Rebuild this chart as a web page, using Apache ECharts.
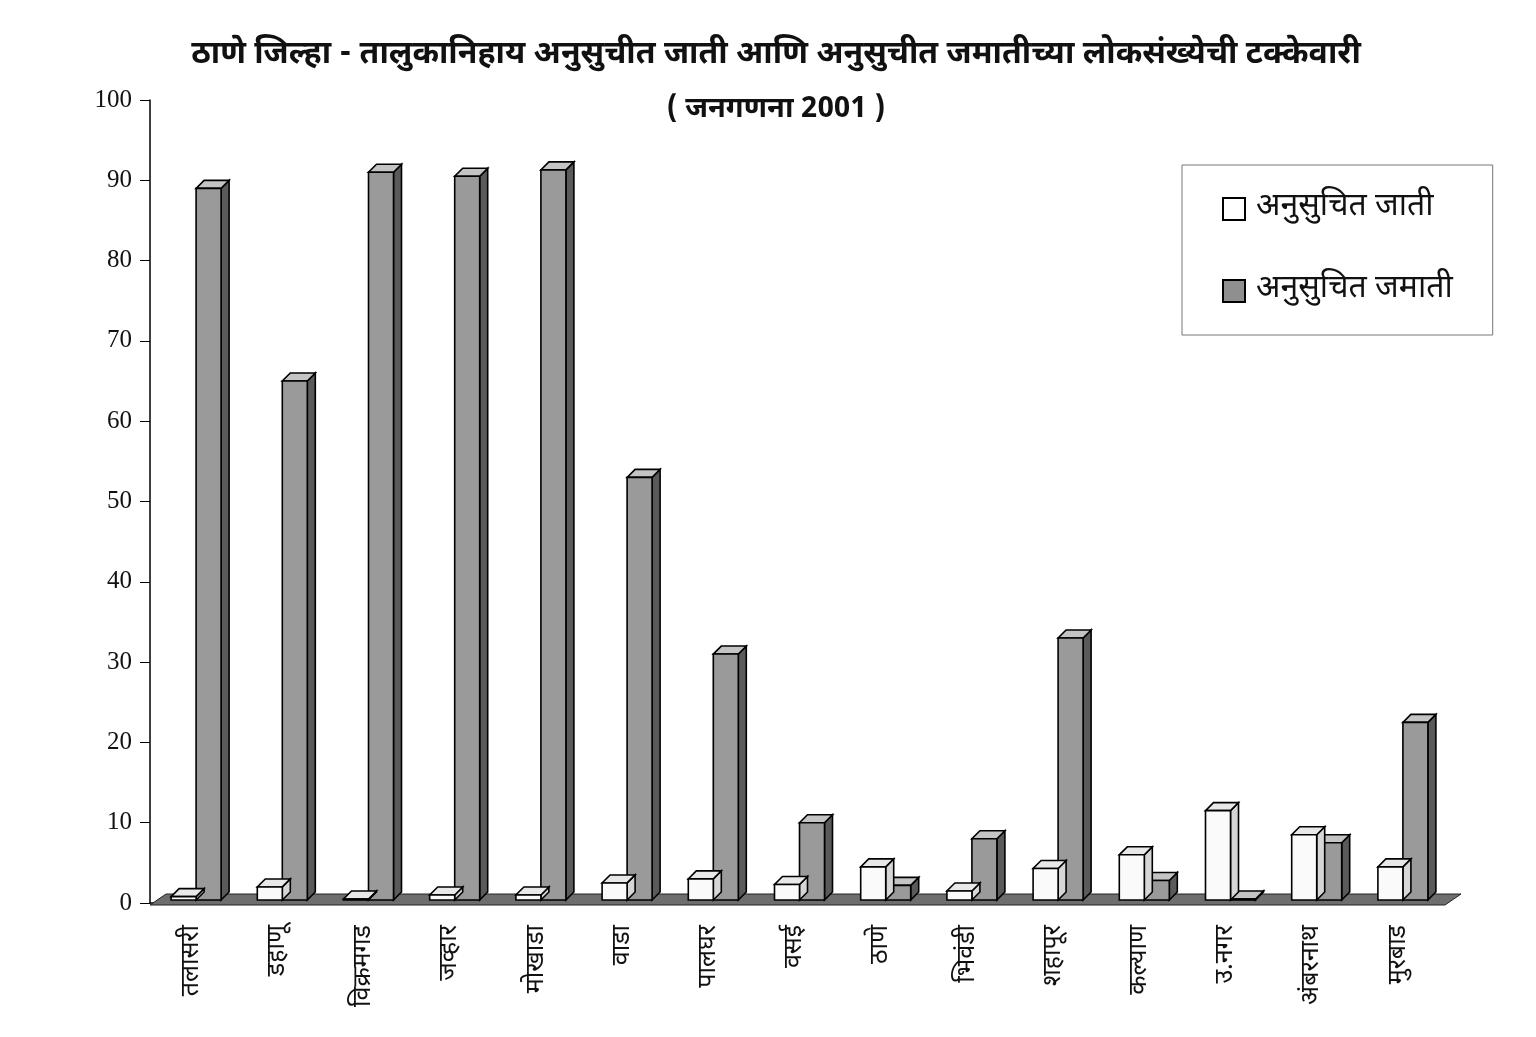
<!DOCTYPE html>
<html>
<head>
<meta charset="utf-8">
<script src="https://cdn.jsdelivr.net/npm/echarts@6/dist/echarts.min.js"></script>
<style>
  html, body { margin: 0; padding: 0; background: #fff; }
  #chart { width: 1536px; height: 1037px; }
</style>
</head>
<body>
<div id="chart"></div>
<script>
// तालुके
const talukas = ['तलासरी', 'डहाणू', 'विक्रमगड', 'जव्हार', 'मोखाडा', 'वाडा', 'पालघर', 'वसई',
  'ठाणे', 'भिवंडी', 'शहापूर', 'कल्याण', 'उ.नगर', 'अंबरनाथ', 'मुरबाड'];
// अनुसुचित जाती (%)
const scValues = [0.8, 2, 0.5, 1, 1, 2.5, 3, 2.3, 4.5, 1.5, 4.3, 6, 11.5, 8.5, 4.5];
// अनुसुचित जमाती (%)
const stValues = [89, 65, 91, 90.5, 91.3, 53, 31, 10, 2.2, 8, 33, 2.8, 0.5, 7.5, 22.5];
const yTicks = { min: 0, max: 100, interval: 10 };

const devFont = "'Noto Sans Devanagari', 'Lohit Devanagari', 'Mangal', sans-serif";
const DEPTH = 8;

function bar3d(side, faces) {
  return function (params, api) {
    const i = api.value(0);
    const v = api.value(1);
    const base = api.coord([i, 0]);
    const top = api.coord([i, v]);
    const band = api.size([1, 0])[0];
    const w = band * 0.29;
    const x0 = side === 0 ? base[0] - w + 3 : base[0] + 3;
    const x1 = x0 + w;
    const yb = base[1] - 3;
    const yt = Math.min(top[1], yb - 1);
    const stroke = { stroke: '#000', lineWidth: 1.6 };
    return {
      type: 'group',
      children: [
        { type: 'polygon', shape: { points: [[x1, yb], [x1 + DEPTH, yb - DEPTH], [x1 + DEPTH, yt - DEPTH], [x1, yt]] },
          style: Object.assign({ fill: faces.side }, stroke) },
        { type: 'polygon', shape: { points: [[x0, yt], [x1, yt], [x1 + DEPTH, yt - DEPTH], [x0 + DEPTH, yt - DEPTH]] },
          style: Object.assign({ fill: faces.top }, stroke) },
        { type: 'rect', shape: { x: x0, y: yt, width: w, height: yb - yt },
          style: Object.assign({ fill: faces.front }, stroke) }
      ]
    };
  };
}

const chart = echarts.init(document.getElementById('chart'));
chart.setOption({
  backgroundColor: '#fff',
  animation: false,
  title: {
    text: 'ठाणे जिल्हा - तालुकानिहाय अनुसुचीत जाती आणि अनुसुचीत जमातीच्या लोकसंख्येची टक्केवारी',
    subtext: '( जनगणना 2001 )',
    left: 771,
    textAlign: 'center',
    top: 36,
    itemGap: 24,
    textStyle: { fontFamily: devFont, fontSize: 32, fontWeight: 'bold', color: '#111' },
    subtextStyle: { fontFamily: devFont, fontSize: 29, fontWeight: 'bold', color: '#111' }
  },
  legend: {
    orient: 'vertical',
    left: 1182,
    top: 165,
    padding: [28, 40, 28, 40],
    itemGap: 50,
    itemWidth: 22,
    itemHeight: 22,
    borderColor: '#777',
    borderWidth: 1,
    icon: 'rect',
    textStyle: { fontFamily: devFont, fontSize: 32, color: '#111', padding: [0, 0, 0, 6] },
    data: ['अनुसुचित जाती', 'अनुसुचित जमाती']
  },
  grid: { left: 150, right: 93, top: 100, bottom: 134 },
  xAxis: {
    type: 'category',
    data: talukas,
    axisLine: { lineStyle: { color: '#000', width: 1.5 } },
    axisTick: { length: 16, interval: 0, lineStyle: { color: '#000' } },
    axisLabel: { rotate: 90, interval: 0, margin: 22, fontFamily: devFont, fontSize: 25, color: '#111' }
  },
  yAxis: {
    type: 'value',
    min: yTicks.min,
    max: yTicks.max,
    interval: yTicks.interval,
    splitLine: { show: false },
    axisLine: { show: true, lineStyle: { color: '#000', width: 1.5 } },
    axisTick: { show: true, length: 10, lineStyle: { color: '#000' } },
    axisLabel: { fontFamily: "'Liberation Serif', 'DejaVu Serif', serif", fontSize: 25, color: '#111', margin: 18 }
  },
  series: [
    {
      // floor
      type: 'custom',
      silent: true,
      z: 1,
      data: [[0]],
      renderItem: function (params) {
        const c = params.coordSys;
        const yf = c.y + c.height + 2;
        return {
          type: 'polygon',
          shape: { points: [[c.x, yf], [c.x + c.width + 2, yf], [c.x + c.width + 18, yf - 11], [c.x + 16, yf - 11]] },
          style: { fill: '#6e6e6e', stroke: '#222', lineWidth: 1 }
        };
      }
    },
    {
      name: 'अनुसुचित जाती',
      type: 'custom',
      z: 3,
      itemStyle: { color: '#fff', borderColor: '#000', borderWidth: 1.5 },
      data: scValues.map((v, i) => [i, v]),
      renderItem: bar3d(0, { front: '#fafafa', top: '#e8e8e8', side: '#d6d6d6' })
    },
    {
      name: 'अनुसुचित जमाती',
      type: 'custom',
      z: 2,
      itemStyle: { color: '#8f8f8f', borderColor: '#000', borderWidth: 1.5 },
      data: stValues.map((v, i) => [i, v]),
      renderItem: bar3d(1, { front: '#9a9a9a', top: '#c4c4c4', side: '#5a5a5a' })
    }
  ]
});
</script>
</body>
</html>
